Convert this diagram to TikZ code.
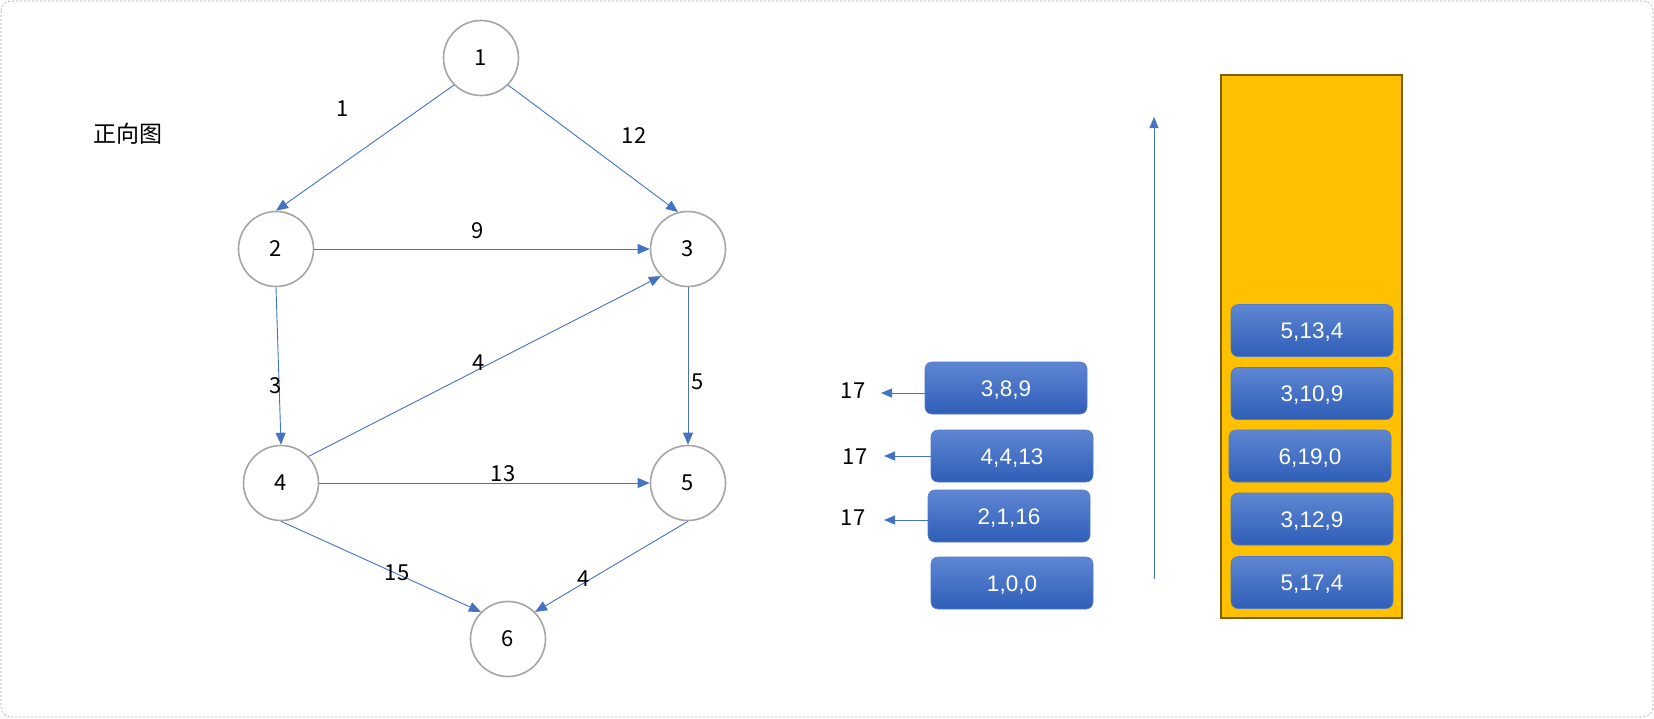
\documentclass[tikz,border=0pt]{standalone}
\usepackage{fontspec}
\setmainfont{Liberation Sans}
\newfontfamily\cjk{Noto Sans CJK SC}
\usetikzlibrary{arrows.meta}
\definecolor{eblue}{HTML}{4472C4}
\definecolor{vgray}{HTML}{A5A5A5}
\definecolor{btop}{HTML}{5E86D2}
\definecolor{bbot}{HTML}{2F5EB8}
\definecolor{bedge}{HTML}{5079C8}
\definecolor{qfill}{HTML}{FFC000}
\definecolor{qedge}{HTML}{7F6000}
\begin{document}
\begin{tikzpicture}[x=1pt,y=-1pt,
  vert/.style={circle, draw=vgray, line width=1.6pt, minimum size=75pt, inner sep=0pt, font=\cjk\fontsize{22}{22}\selectfont},
  edge/.style={draw=eblue, line width=0.9pt, -{Triangle[length=12pt,width=10pt]}},
  sedge/.style={draw=eblue, line width=0.9pt, -{Triangle[length=11pt,width=9pt]}},
  lbl/.style={font=\cjk\fontsize{22}{22}\selectfont, inner sep=0pt},
  qbox/.style={rounded corners=7pt, draw=bedge, line width=0.6pt, top color=btop, bottom color=bbot, text=white, font=\fontsize{22.5}{22.5}\selectfont, minimum width=162pt, minimum height=52pt, inner sep=0pt, text height=16pt, text depth=0pt}
]
\useasboundingbox (0,0) rectangle (1654,718);
\draw[gray!70, dashed, dash pattern=on 2pt off 2pt, rounded corners=10pt, line width=0.6pt] (1,1) rectangle (1653,717);

\node[font=\cjk\fontsize{23}{23}\selectfont] (title) at (128,134) {正向图};

\node[vert] (n1) at (481,58) {1};
\node[vert] (n2) at (276,249) {2};
\node[vert] (n3) at (688,249) {3};
\node[vert] (n4) at (281,483) {4};
\node[vert] (n5) at (688,483) {5};
\node[vert] (n6) at (508,639) {6};

\draw[edge] (n1.225) -- (n2.north);
\draw[edge] (n1.-45) -- (n3.105);
\draw[edge] (n2.east) -- (n3.west);
\draw[edge] (n2.south) -- (n4.north);
\draw[edge] (n4.44) -- (n3.225);
\draw[edge] (n3.south) -- (n5.north);
\draw[edge] (n4.east) -- (n5.west);
\draw[edge] (n4.south) -- (n6.135);
\draw[edge] (n5.south) -- (n6.45);

\node[lbl] (l12) at (343,109) {1};
\node[lbl] (l13) at (634,136) {12};
\node[lbl] (l23) at (478,231) {9};
\node[lbl] (l24) at (276,386) {3};
\node[lbl] (l43) at (479,363) {4};
\node[lbl] (l35) at (698,382) {5};
\node[lbl] (l45) at (503,474) {13};
\node[lbl] (l46) at (397,573) {15};
\node[lbl] (l56) at (584,579) {4};

% left stack
\node[qbox] (b1) at (1006,388) {3,8,9};
\node[qbox] (b2) at (1012,456) {4,4,13};
\node[qbox] (b3) at (1009,516) {2,1,16};
\node[qbox] (b4) at (1012,583) {1,0,0};

\node[lbl] (t1) at (853,391) {17};
\node[lbl] (t2) at (855,457) {17};
\node[lbl] (t3) at (853,518) {17};
\coordinate (c1) at (881,393);
\coordinate (c2) at (884,456);
\coordinate (c3) at (884,520);
\draw[sedge] (b1.west |- c1) -- (c1);
\draw[sedge] (b2.west |- c2) -- (c2);
\draw[sedge] (b3.west |- c3) -- (c3);

\coordinate (va1) at (1154,579);
\coordinate (va2) at (1154,117);
\draw[sedge] (va1) -- (va2);

% priority queue
\node[draw=qedge, fill=qfill, line width=2pt, minimum width=181pt, minimum height=543pt, inner sep=0pt] (pq) at (1311.5,346.5) {};
\node[qbox] (q1) at (1312,330.5) {5,13,4};
\node[qbox] (q2) at (1312,393.5) {3,10,9};
\node[qbox] (q3) at (1310,456) {6,19,0};
\node[qbox] (q4) at (1312,519) {3,12,9};
\node[qbox] (q5) at (1312,582.5) {5,17,4};
\end{tikzpicture}
\end{document}
